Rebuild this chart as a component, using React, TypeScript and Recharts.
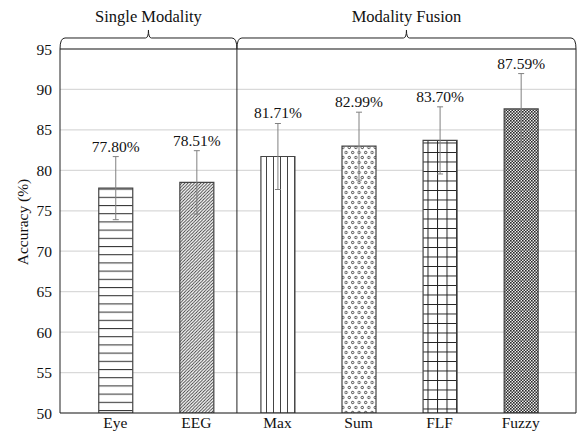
import React from 'react';
import {
  BarChart,
  Bar,
  XAxis,
  YAxis,
  CartesianGrid,
  ErrorBar,
  Cell,
  LabelList,
  ReferenceLine,
  ReferenceArea,
} from 'recharts';

// ---- data ----
const CATEGORIES = ['Eye', 'EEG', 'Max', 'Sum', 'FLF', 'Fuzzy'];
const ACCURACY = [77.8, 78.51, 81.71, 82.99, 83.7, 87.59];
const STD_DEV = [3.9, 3.92, 4.08, 4.2, 4.15, 4.37];
const Y_TICKS = [50, 55, 60, 65, 70, 75, 80, 85, 90, 95];
const GROUPS = [
  { title: 'Single Modality', from: 'start', to: 1.5 },
  { title: 'Modality Fusion', from: 1.5, to: 'end' },
];

const PATTERN_IDS = ['pEye', 'pEeg', 'pMax', 'pSum', 'pFlf', 'pFuzzy'];

const FONT = '"Liberation Serif", "Times New Roman", serif';
const INK = '#222';
const X_MIN = -0.682;
const X_MAX = 5.682;
const Y_MIN = 50;
const Y_MAX = 95;
const BRACE_TOP = 96.36;

const rows = CATEGORIES.map((name, i) => ({
  x: i,
  name,
  value: ACCURACY[i],
  err: STD_DEV[i],
}));

// hatch patterns for the bars
const Patterns = () => (
  <svg width={0} height={0} style={{ position: 'absolute' }}>
    <defs>
      <pattern id="pEye" patternUnits="userSpaceOnUse" width={8} height={8.2}>
        <rect width={8} height={8.2} fill="#fff" />
        <path d="M0 0.5 H8" stroke="#333" strokeWidth={1.1} />
      </pattern>
      <pattern id="pEeg" patternUnits="userSpaceOnUse" width={3.2} height={3.2}>
        <rect width={3.2} height={3.2} fill="#fff" />
        <path d="M0 3.2 L3.2 0 M-1 1 L1 -1 M2.2 4.2 L4.2 2.2" stroke="#333" strokeWidth={0.9} />
      </pattern>
      <pattern id="pMax" patternUnits="userSpaceOnUse" width={7} height={10}>
        <rect width={7} height={10} fill="#fff" />
        <path d="M0.5 0 V10" stroke="#444" strokeWidth={1} />
      </pattern>
      <pattern id="pSum" patternUnits="userSpaceOnUse" width={6.5} height={10}>
        <rect width={6.5} height={10} fill="#fff" />
        <circle cx={1.6} cy={2.5} r={1.2} fill="#fff" stroke="#333" strokeWidth={0.9} />
        <circle cx={4.85} cy={7.5} r={1.2} fill="#fff" stroke="#333" strokeWidth={0.9} />
      </pattern>
      <pattern id="pFlf" patternUnits="userSpaceOnUse" width={9.5} height={9.5}>
        <rect width={9.5} height={9.5} fill="#fff" />
        <path d="M0 0.5 H9.5 M0.5 0 V9.5" stroke="#222" strokeWidth={1} />
      </pattern>
      <pattern id="pFuzzy" patternUnits="userSpaceOnUse" width={3} height={3}>
        <rect width={3} height={3} fill="#eee" />
        <rect width={1.6} height={1.6} fill="#2a2a2a" />
        <rect x={1.5} y={1.5} width={1.5} height={1.5} fill="#2a2a2a" />
      </pattern>
    </defs>
  </svg>
);

// curly brace over a group, drawn in the area's pixel box
const Brace = (props: any) => {
  const { x, y, width, height, title } = props;
  const r = 5;
  const xm = x + width / 2;
  const d = [
    `M${x},${y + height}`,
    `Q${x},${y} ${x + r},${y}`,
    `L${xm - 3},${y}`,
    `Q${xm},${y} ${xm},${y - 8}`,
    `Q${xm},${y} ${xm + 3},${y}`,
    `L${x + width - r},${y}`,
    `Q${x + width},${y} ${x + width},${y + height}`,
  ].join(' ');
  return (
    <g>
      <path d={d} fill="none" stroke={INK} strokeWidth={1} />
      <text x={xm} y={y - 16} textAnchor="middle" fontFamily={FONT} fontSize={16.5} fill="#111">
        {title}
      </text>
    </g>
  );
};

const renderValueLabel = (props: any) => {
  const { x, y, width, height, index } = props;
  const v = ACCURACY[index];
  const pxPerUnit = height / (v - Y_MIN);
  const top = y - STD_DEV[index] * pxPerUnit;
  return (
    <text x={x + width / 2} y={top - 5} textAnchor="middle" fontFamily={FONT} fontSize={15.5} fill="#111">
      {v.toFixed(2)}%
    </text>
  );
};

const renderYLabel = (props: any) => {
  const { viewBox } = props;
  const cx = 22;
  const cy = viewBox.y + viewBox.height / 2 - 9;
  return (
    <text
      x={cx}
      y={cy}
      transform={`rotate(-90 ${cx} ${cy})`}
      textAnchor="middle"
      dominantBaseline="central"
      fontFamily={FONT}
      fontSize={15.5}
      fill="#111"
    >
      Accuracy (%)
    </text>
  );
};

export default function App() {
  return (
    <div style={{ width: 577, height: 437, background: '#fff' }}>
      <style>{'body{margin:0}'}</style>
      <Patterns />
      <BarChart
        width={577}
        height={437}
        data={rows}
        margin={{ top: 49, right: 1, bottom: 0, left: 0 }}
      >
        <CartesianGrid vertical={false} stroke="#d9d9d9" strokeWidth={1.2} />
        <XAxis
          dataKey="x"
          type="number"
          domain={[X_MIN, X_MAX]}
          ticks={[0, 1, 2, 3, 4, 5]}
          tickFormatter={(i: number) => CATEGORIES[i]}
          height={24}
          tickSize={0}
          tickMargin={4}
          axisLine={{ stroke: INK }}
          tickLine={false}
          tick={{ fontFamily: FONT, fontSize: 15.5, fill: '#111' }}
          allowDataOverflow
        />
        <YAxis
          domain={[Y_MIN, Y_MAX]}
          ticks={Y_TICKS}
          width={60}
          tickSize={0}
          tickMargin={8}
          axisLine={{ stroke: INK }}
          tickLine={false}
          tick={{ fontFamily: FONT, fontSize: 15.5, fill: '#111' }}
          label={{ content: renderYLabel }}
          allowDataOverflow
        />
        <ReferenceLine y={Y_MAX} stroke={INK} strokeWidth={1} />
        <ReferenceLine x={X_MAX} stroke={INK} strokeWidth={1} />
        <ReferenceLine x={1.5} stroke={INK} strokeWidth={1} />
        {GROUPS.map((g) => (
          <ReferenceArea
            key={g.title}
            x1={g.from === 'start' ? X_MIN : (g.from as number)}
            x2={g.to === 'end' ? X_MAX : (g.to as number)}
            y1={Y_MAX}
            y2={BRACE_TOP}
            ifOverflow="visible"
            shape={(p: any) => <Brace {...p} title={g.title} />}
          />
        ))}
        <Bar dataKey="value" barSize={34} stroke="#444" strokeWidth={1.2} isAnimationActive={false}>
          {rows.map((r, i) => (
            <Cell key={r.name} fill={`url(#${PATTERN_IDS[i]})`} />
          ))}
          <ErrorBar dataKey="err" width={3} stroke="#808080" strokeWidth={1} />
          <LabelList dataKey="value" content={renderValueLabel} />
        </Bar>
      </BarChart>
    </div>
  );
}
